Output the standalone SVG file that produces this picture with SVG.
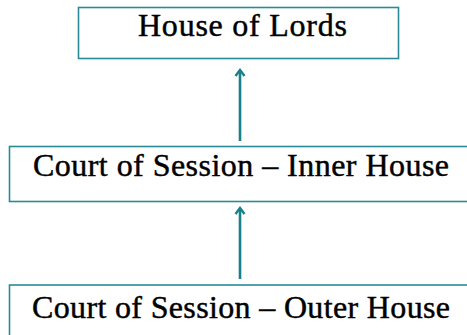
<svg xmlns="http://www.w3.org/2000/svg" width="467" height="335" viewBox="0 0 467 335">
<defs>
<style>
.box{fill:#ffffff;stroke:#2a8a95;stroke-width:1.6}
.lbl{font-family:"Liberation Serif","Times New Roman",serif;font-size:32px;fill:#000000;stroke:#000000;stroke-width:0.45}
.conn{stroke:#17808a;stroke-width:2.6;fill:none}
</style>
<marker id="ah" viewBox="0 0 12 12" refX="10" refY="6" markerWidth="12" markerHeight="12" markerUnits="userSpaceOnUse" orient="auto">
<path d="M4,1.5 L10,6 L4,10.5" fill="none" stroke="#17808a" stroke-width="2.4"/>
</marker>
</defs>
<rect width="467" height="335" fill="#ffffff"/>
<g id="node-lords">
<rect class="box" x="78.5" y="7.5" width="320" height="51"/>
<text class="lbl" x="138" y="36" textLength="209" lengthAdjust="spacing">House of Lords</text>
</g>
<g id="node-inner">
<rect class="box" x="9.5" y="146.5" width="464" height="55"/>
<text class="lbl" x="33" y="176" textLength="416" lengthAdjust="spacing">Court of Session – Inner House</text>
</g>
<g id="node-outer">
<rect class="box" x="9.5" y="285" width="464" height="60"/>
<text class="lbl" x="32" y="318" textLength="418" lengthAdjust="spacing">Court of Session – Outer House</text>
</g>
<g id="connectors">
<line class="conn" x1="240" y1="141" x2="240" y2="70" marker-end="url(#ah)"/>
<line class="conn" x1="240" y1="279" x2="240" y2="208" marker-end="url(#ah)"/>
</g>
</svg>
